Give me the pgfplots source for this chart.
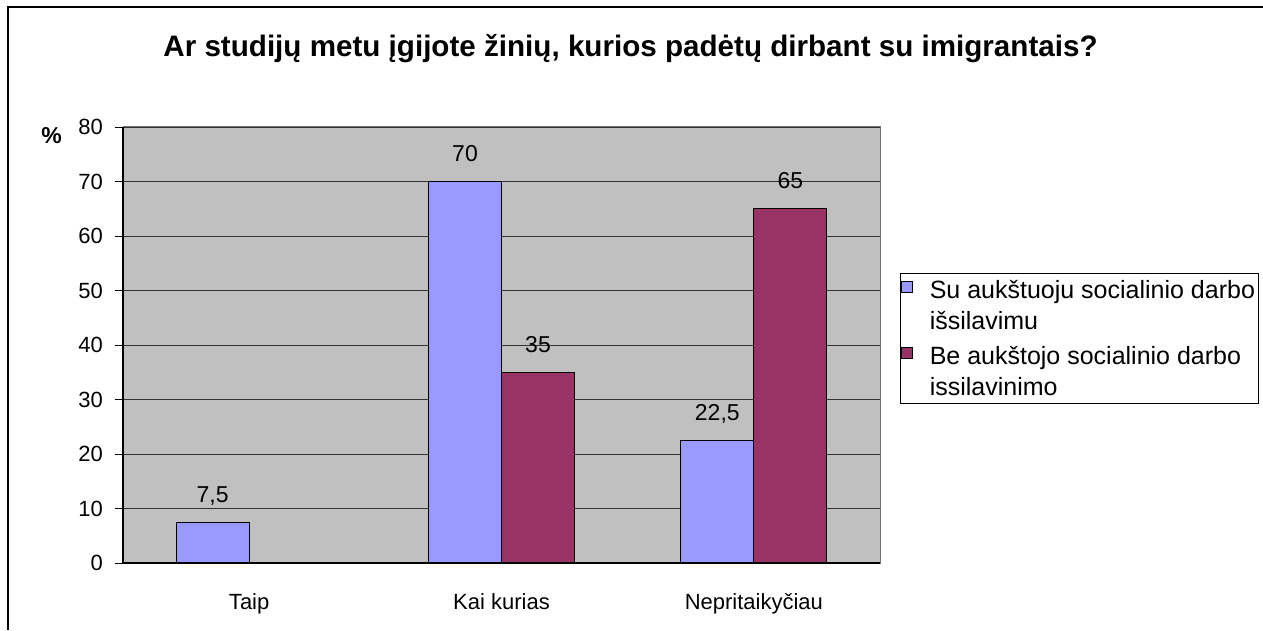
\documentclass[border=0pt]{standalone}
\usepackage{pgfplots}
\pgfplotsset{compat=1.18}
\usepackage{fontspec}
\setmainfont{Liberation Sans}
\definecolor{barblue}{HTML}{9999FF}
\definecolor{barred}{HTML}{993366}
\definecolor{plotbg}{HTML}{C0C0C0}
\begin{document}
\begin{tikzpicture}
\path[use as bounding box] (0pt,0pt) rectangle (1263pt,630pt);
\draw[black, line width=1.2pt] (8pt,0pt) -- (8pt,623pt) -- (1263pt,623pt);
\node[font=\fontsize{29.6}{34}\selectfont\bfseries, anchor=base, inner sep=0pt] at (630.5pt,573pt) {Ar studijų metu įgijote žinių, kurios padėtų dirbant su imigrantais?};
\node[font=\fontsize{23}{27}\selectfont\bfseries, inner sep=0pt] at (51.5pt,494pt) {\%};
\begin{axis}[
  at={(123pt,67pt)}, anchor=south west,
  scale only axis, width=757pt, height=436pt,
  xmin=-0.5, xmax=2.5, ymin=0, ymax=80,
  ybar=0pt, bar width=73pt,
  axis background/.style={fill=plotbg},
  axis line style={draw=gray!90!black, line width=1pt},
  xtick={0,1,2},
  xticklabels={Taip, Kai kurias, Nepritaikyčiau},
  x tick style={draw=none},
  xtick pos=bottom, ytick pos=left,
  extra x ticks={-0.5,0.5,1.5,2.5},
  extra x tick labels={},
  extra x tick style={grid=none, xtick pos=bottom, tick style={draw=black, line width=0.8pt}, major tick length=8pt, tick align=outside},
  ytick={0,10,...,80},
  ymajorgrids,
  grid style={black!80, line width=0.7pt},
  y tick style={draw=black, line width=0.8pt},
  major tick length=8pt, tick align=outside,
  tick label style={font=\fontsize{22}{26}\selectfont},
  /pgf/number format/assume math mode=true,
  /pgf/number format/use comma,
  xticklabel style={anchor=base, yshift=-38pt, inner sep=0pt},
  yticklabel style={anchor=east, inner sep=0pt, xshift=-12pt},
  nodes near coords,
  nodes near coords style={font=\fontsize{23}{27}\selectfont, anchor=base, yshift=20pt, inner sep=0pt, /pgf/number format/assume math mode=true, /pgf/number format/use comma, black},
  legend style={at={(1.0264,0.665)}, anchor=north west, draw=black, line width=0.8pt, font=\fontsize{25}{31}\selectfont, cells={align=left, anchor=west}, inner xsep=1pt, inner ysep=5pt, row sep=11pt},
  legend image code/.code={\path[draw=none, fill=none] (0pt,-24pt) rectangle (26pt,24pt); \draw[#1, line width=0.8pt] (0pt,13pt) rectangle (11pt,24pt);},
  clip=false,
]
\addplot[fill=barblue, draw=black, line width=1.2pt] coordinates {(0,7.5) (1,70) (2,22.5)};
\addplot[fill=barred, draw=black, line width=1.2pt] coordinates {(0,nan) (1,35) (2,65)};
\draw[black, line width=1.2pt] (axis cs:-0.5,0) -- (axis cs:2.5,0);
\draw[black, line width=1.2pt] (axis cs:-0.5,0) -- (axis cs:-0.5,80);
\legend{Su aukštuoju socialinio darbo\\išsilavimu, Be aukštojo socialinio darbo\\issilavinimo}
\end{axis}
\end{tikzpicture}
\end{document}
